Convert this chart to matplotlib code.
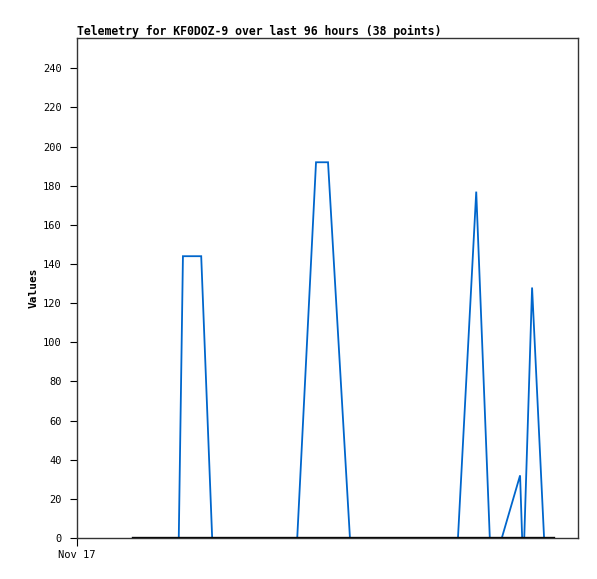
import matplotlib
matplotlib.use("Agg")
import matplotlib.pyplot as plt

# hours since Nov 17 00:00
hours = [10.7, 19.5, 20.3, 23.8, 25.9, 42.2, 45.8, 48.1, 52.3, 73.0,
         76.5, 79.1, 81.4, 84.9, 85.3, 85.7, 87.2, 89.5, 91.2]
values_a = [0, 0, 144, 144, 0, 0, 192, 192, 0, 0,
            177, 0, 0, 32, 0, 0, 128, 0, 0]
values_b = [0] * len(hours)
y_ticks = list(range(0, 241, 20))
x_tick_labels = ["Nov 17"]

fig = plt.figure(figsize=(5.97, 5.79), dpi=100)
ax = fig.add_axes([77/597, 41/579, 501/597, 500/579])

ax.plot(hours, values_a, color="#0066CC", linewidth=1.3, solid_joinstyle="miter")
ax.plot(hours, values_b, color="#000000", linewidth=2.4)

ax.set_xlim(0, 96)
ax.set_ylim(0, 255.5)
ax.set_yticks(y_ticks)
ax.set_yticklabels([str(v) for v in y_ticks], family="DejaVu Sans Mono", fontsize=7.5)
ax.set_xticks([0])
ax.set_xticklabels(x_tick_labels, family="DejaVu Sans Mono", fontsize=7.5)
ax.tick_params(axis="y", length=5, width=0.8, pad=6)
ax.tick_params(axis="x", length=6, width=0.8, pad=3)

for s in ax.spines.values():
    s.set_color("#333333")
    s.set_linewidth(1.0)

ax.set_ylabel("Values", family="DejaVu Sans Mono", fontweight="bold", fontsize=8, labelpad=3)
fig.text(77/597, 1 - 31/579, "Telemetry for KF0DOZ-9 over last 96 hours (38 points)",
         family="DejaVu Sans Mono", fontweight="bold", fontsize=8.3, ha="left", va="center")

fig.savefig("out.png", dpi=100)
